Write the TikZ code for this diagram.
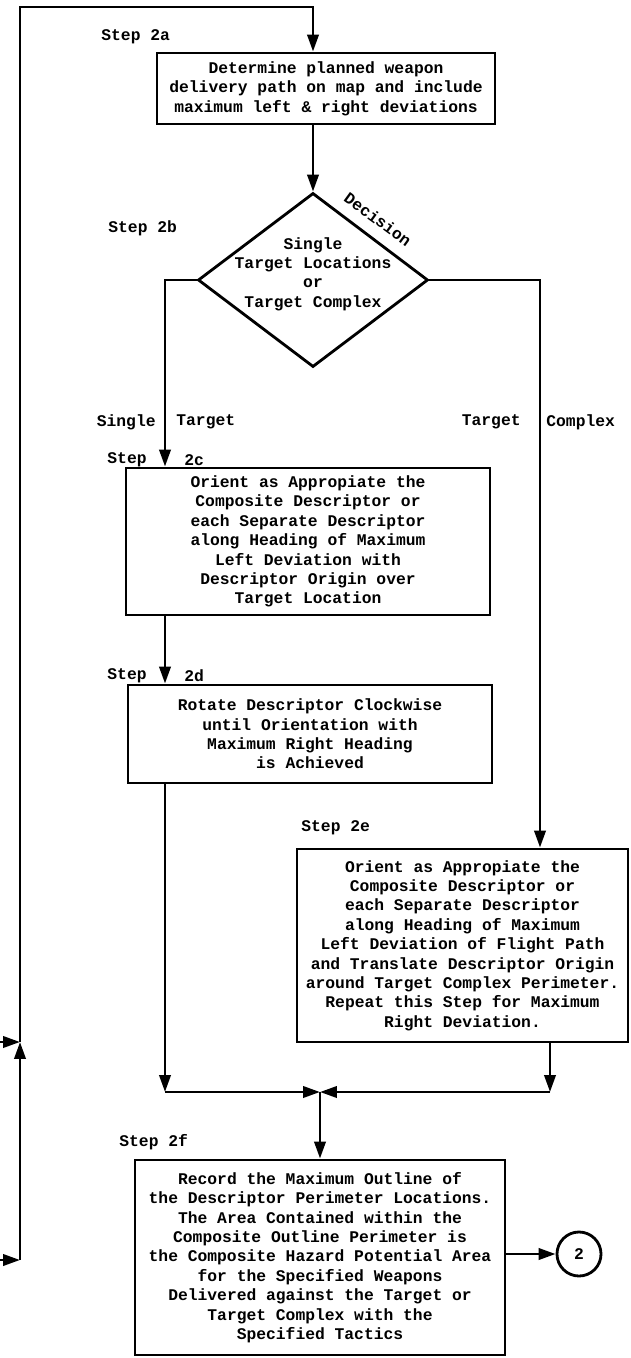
\documentclass[tikz,border=0pt]{standalone}
\usepackage{fontspec}
\setmonofont{Liberation Mono}
\usetikzlibrary{arrows.meta,shapes.geometric,calc}
\newcommand\flowfont{\ttfamily\bfseries\fontsize{11.6}{13.8}\selectfont}
\tikzset{
	stepbox/.style={draw,inner sep=0pt,align=center,font=\flowfont},
	decision/.style={draw,diamond,inner sep=0pt,minimum width=5.75cm,minimum height=4.35cm},
	flowtext/.style={inner sep=0pt,align=center,font=\flowfont},
	lbl/.style={inner sep=0pt,font=\flowfont},
	offpage/.style={draw,circle,inner sep=0pt,minimum size=1.1cm,font=\flowfont}
}

\begin{document}
\begin{tikzpicture}[x=0.025cm,y=-0.025cm,line width=2pt,>={Triangle[length=12pt,width=8pt]}]
	\useasboundingbox (0,0) rectangle (630,1358);

	%COORDINATES
	\coordinate (inA) at (0,1042);		%incoming from left
	\coordinate (inB) at (0,1260);
	\coordinate (loopA) at (20,1042);
	\coordinate (loopB) at (20,1260);
	\coordinate (loopTop) at (20,7);
	\coordinate (lcol) at (165,0);		%single target column
	\coordinate (rcol) at (540,0);		%target complex column
	\coordinate (rcolb) at (550,0);
	\coordinate (junc) at (320,1092);

	%BOXES
	\node[stepbox,minimum width=8.45cm,minimum height=1.775cm] (box2a) at (326,88.5)
		{Determine planned weapon\\delivery path on map and include\\maximum left \& right deviations};
	\node[decision] (dec) at (313,280) {};
	\node[flowtext] (dectext) at (313,274) {Single\\Target Locations\\or\\Target Complex};
	\node[stepbox,minimum width=9.1cm,minimum height=3.675cm] (box2c) at (308,541.5)
		{Orient as Appropiate the\\Composite Descriptor or\\each Separate Descriptor\\along Heading of Maximum\\Left Deviation with\\Descriptor Origin over\\Target Location};
	\node[stepbox,minimum width=9.1cm,minimum height=2.45cm] (box2d) at (310,734)
		{Rotate Descriptor Clockwise\\until Orientation with\\Maximum Right Heading\\is Achieved};
	\node[stepbox,minimum width=8.275cm,minimum height=4.825cm] (box2e) at (462.5,945.5)
		{Orient as Appropiate the\\Composite Descriptor or\\each Separate Descriptor\\along Heading of Maximum\\Left Deviation of Flight Path\\and Translate Descriptor Origin\\around Target Complex Perimeter.\\Repeat this Step for Maximum\\Right Deviation.};
	\node[stepbox,minimum width=9.25cm,minimum height=4.875cm] (box2f) at (320,1257.5)
		{Record the Maximum Outline of\\the Descriptor Perimeter Locations.\\The Area Contained within the\\Composite Outline Perimeter is\\the Composite Hazard Potential Area\\for the Specified Weapons\\Delivered against the Target or\\Target Complex with the\\Specified Tactics};
	\node[offpage] (page2) at (579,1254) {2};

	%CONNECTORS
	\draw[->] (inB) -- (loopB);
	\draw[->] (loopB) -- (loopA);
	\draw[->] (inA) -- (loopA);
	\draw[->] (loopA) -- (loopTop) -| (box2a.north -| dec.north);
	\draw[->] (box2a.south -| dec.north) -- (dec.north);
	\draw[->] (dec.west) -| (box2c.north -| lcol);
	\draw[->] (dec.east) -| (box2e.north -| rcol);
	\draw[->] (box2c.south -| lcol) -- (box2d.north -| lcol);
	\draw[->] (box2d.south -| lcol) -- (lcol |- junc);
	\draw[->] (lcol |- junc) -- (junc);
	\draw[->] (box2e.south -| rcolb) -- (rcolb |- junc);
	\draw[->] (rcolb |- junc) -- (junc);
	\draw[->] (junc) -- (box2f.north);
	\draw[->] (box2f.east |- page2) -- (page2.west);

	%LABELS
	\node[lbl,anchor=west] (lbl2a) at (100,37) {Step 2a};
	\node[lbl,anchor=west] (lbl2b) at (107,228) {Step 2b};
	\node[lbl,rotate=-36,anchor=south,inner sep=7pt] (lbldec) at ($(dec.north)!0.47!(dec.east)$) {Decision};
	\node[lbl,anchor=east] (lblsingle) at (157,422) {Single};
	\node[lbl,anchor=west] (lbltgtl) at (175,422) {Target};
	\node[lbl,anchor=east] (lbltgtr) at (522,422) {Target};
	\node[lbl,anchor=west] (lblcomplex) at (545,422) {Complex};
	\node[lbl,anchor=east] (lbl2c) at (148,460) {Step};
	\node[lbl,anchor=west] (lbl2cb) at (183,460) {2c};
	\node[lbl,anchor=east] (lbl2d) at (148,676) {Step};
	\node[lbl,anchor=west] (lbl2db) at (183,676) {2d};
	\node[lbl,anchor=west] (lbl2e) at (300,828) {Step 2e};
	\node[lbl,anchor=west] (lbl2f) at (118,1142) {Step 2f};
\end{tikzpicture}
\end{document}
